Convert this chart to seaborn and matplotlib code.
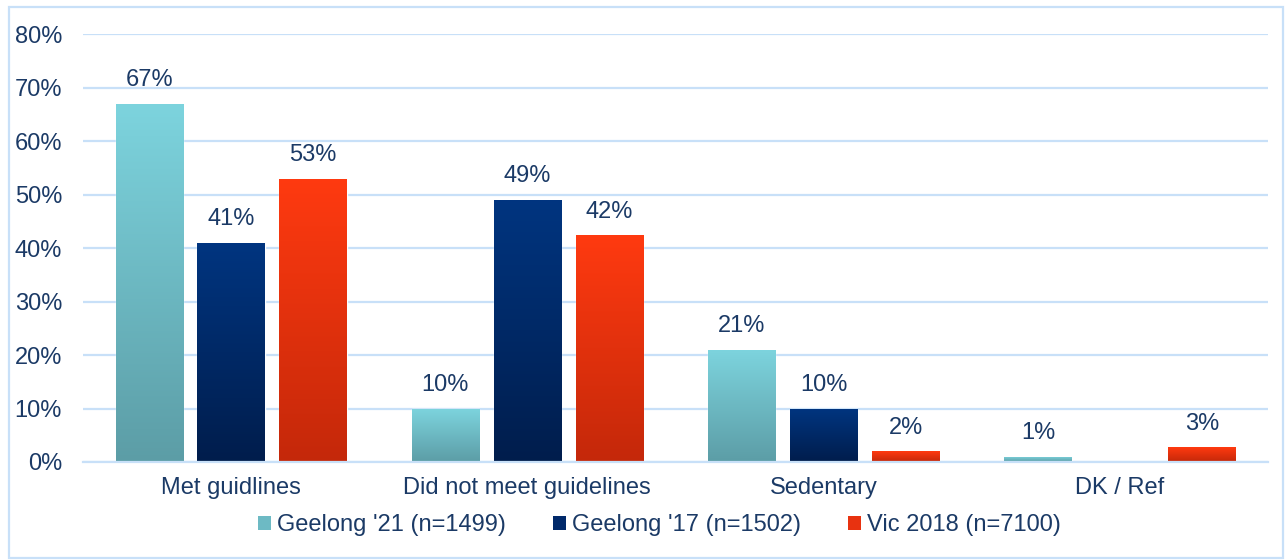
import numpy as np
import pandas as pd
import matplotlib
matplotlib.use("Agg")
import matplotlib.pyplot as plt
import seaborn as sns
from matplotlib.colors import to_rgb
from matplotlib.patches import Rectangle, Patch

categories = ["Met guidlines", "Did not meet guidelines", "Sedentary", "DK / Ref"]
series = ["Geelong '21 (n=1499)", "Geelong '17 (n=1502)", "Vic 2018 (n=7100)"]
geelong_21 = [67, 10, 21, 1]
geelong_17 = [41, 49, 10, 0]
vic_2018 = [53, 42.4, 2, 2.8]
y_ticks = [0, 10, 20, 30, 40, 50, 60, 70, 80]

# gradient colours (top, bottom) per series
grad_colors = {
    series[0]: ("#7DD4DE", "#5C9DA6"),
    series[1]: ("#003580", "#001D4C"),
    series[2]: ("#FF3A10", "#C4280A"),
}
text_col = "#1B3A66"
grid_col = "#C8E0F8"
fs = 17

df = pd.DataFrame({
    "category": categories * 3,
    "series": [s for s in series for _ in categories],
    "value": geelong_21 + geelong_17 + vic_2018,
})

sns.set_style("white")
plt.rcParams["font.family"] = ["Liberation Sans", "DejaVu Sans"]

fig = plt.figure(figsize=(12.86, 5.6), dpi=100)
ax = fig.add_axes([0.0645, 0.175, 0.9215, 0.764])

palette = {s: grad_colors[s][0] for s in series}
sns.barplot(data=df, x="category", y="value", hue="series", hue_order=series,
            order=categories, palette=palette, width=0.83, gap=0.18,
            ax=ax, legend=False, saturation=1)

# gradient fill for each bar
for cont, s in zip(ax.containers, series):
    top, bot = grad_colors[s]
    grad = np.linspace(0, 1, 256)[:, None, None]
    img = (1 - grad) * np.array(to_rgb(top)) + grad * np.array(to_rgb(bot))
    for bar in cont:
        h = bar.get_height()
        if h <= 0:
            continue
        x0 = bar.get_x()
        w = bar.get_width()
        im = ax.imshow(img, extent=[x0, x0 + w, 0, h], aspect="auto",
                       origin="upper", zorder=bar.get_zorder() + 0.1)
        im.set_clip_path(bar)

ax.set_ylim(0, 80)
ax.set_xlim(-0.5, 3.5)
ax.set_aspect("auto")

# value labels
for cont, vals in zip(ax.containers, [geelong_21, geelong_17, vic_2018]):
    labels = [f"{v:.0f}%" if v > 0 else "" for v in vals]
    ax.bar_label(cont, labels=labels, padding=9, fontsize=fs, color=text_col)

ax.set_yticks(y_ticks)
ax.set_yticklabels([f"{t}%" for t in y_ticks])
ax.yaxis.grid(True, color=grid_col, linewidth=1.6)
ax.set_axisbelow(True)
ax.tick_params(axis="y", length=0, pad=15, labelsize=fs, labelcolor=text_col)
ax.tick_params(axis="x", length=0, pad=11, labelsize=fs, labelcolor=text_col)
ax.set_xlabel("")
ax.set_ylabel("")
for sp in ["top", "right", "left"]:
    ax.spines[sp].set_visible(False)
ax.spines["bottom"].set_color(grid_col)
ax.spines["bottom"].set_linewidth(1.6)

handles = [Patch(facecolor=c, edgecolor="none") for c in ["#6DBAC4", "#00296A", "#E83210"]]
fig.legend(handles, series, loc="center", bbox_to_anchor=(0.513, 0.0625), ncol=3,
           frameon=False, fontsize=fs, labelcolor=text_col,
           handlelength=0.55, handleheight=0.55, handletextpad=0.25,
           columnspacing=2.0)

# outer border
fig.patches.append(Rectangle((0.007, 0.003), 0.9905, 0.9845, transform=fig.transFigure,
                             fill=False, edgecolor=grid_col, linewidth=1.6))

fig.savefig("out.png", dpi=100)
